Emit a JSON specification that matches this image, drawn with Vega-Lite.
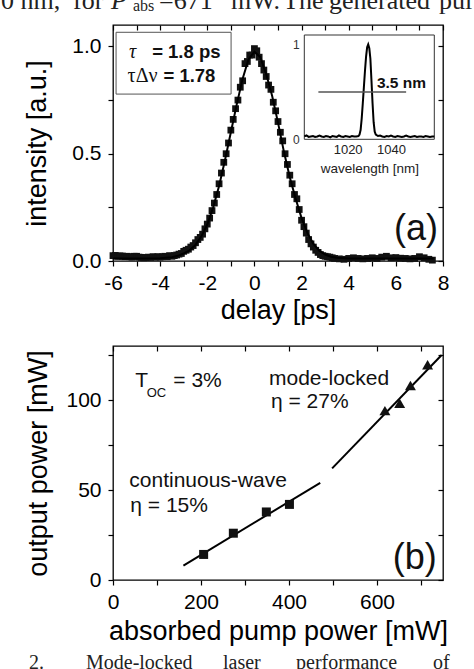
{
  "$schema": "https://vega.github.io/schema/vega-lite/v6.json",
  "background": "white",
  "padding": {"left": 0, "top": -13, "right": 0, "bottom": 0},
  "spacing": 19,
  "config": {
    "view": {"stroke": "black", "strokeWidth": 1.3},
    "font": "Liberation Sans",
    "axis": {"labelFont": "Liberation Sans", "titleFont": "Liberation Sans", "labelColor": "black", "titleColor": "black", "domainColor": "black", "tickColor": "black", "grid": false, "titleFontWeight": "normal", "labelFontSize": 21, "titleFontSize": 27, "domainWidth": 1.3, "tickWidth": 1.2, "tickSize": 5, "labelOverlap": false, "labelFlush": false}
  },
  "datasets": {
    "pulse": [
      {"delay": -6.0, "intensity": 0.025}, {"delay": -5.9, "intensity": 0.026}, {"delay": -5.8, "intensity": 0.022}, {"delay": -5.7, "intensity": 0.024}, {"delay": -5.6, "intensity": 0.023}, {"delay": -5.5, "intensity": 0.02}, {"delay": -5.4, "intensity": 0.022}, {"delay": -5.3, "intensity": 0.02}, {"delay": -5.2, "intensity": 0.018}, {"delay": -5.1, "intensity": 0.022}, {"delay": -5.0, "intensity": 0.022}, {"delay": -4.9, "intensity": 0.018}, {"delay": -4.8, "intensity": 0.017}, {"delay": -4.7, "intensity": 0.015}, {"delay": -4.6, "intensity": 0.016}, {"delay": -4.5, "intensity": 0.018}, {"delay": -4.4, "intensity": 0.017}, {"delay": -4.3, "intensity": 0.02}, {"delay": -4.2, "intensity": 0.018}, {"delay": -4.1, "intensity": 0.02}, {"delay": -4.0, "intensity": 0.018}, {"delay": -3.9, "intensity": 0.02}, {"delay": -3.8, "intensity": 0.022}, {"delay": -3.7, "intensity": 0.02}, {"delay": -3.6, "intensity": 0.025}, {"delay": -3.5, "intensity": 0.022}, {"delay": -3.4, "intensity": 0.025}, {"delay": -3.3, "intensity": 0.028}, {"delay": -3.2, "intensity": 0.032}, {"delay": -3.1, "intensity": 0.035}, {"delay": -3.0, "intensity": 0.045}, {"delay": -2.9, "intensity": 0.05}, {"delay": -2.8, "intensity": 0.055}, {"delay": -2.7, "intensity": 0.065}, {"delay": -2.6, "intensity": 0.072}, {"delay": -2.5, "intensity": 0.085}, {"delay": -2.4, "intensity": 0.1}, {"delay": -2.3, "intensity": 0.11}, {"delay": -2.2, "intensity": 0.125}, {"delay": -2.1, "intensity": 0.15}, {"delay": -2.0, "intensity": 0.172}, {"delay": -1.9, "intensity": 0.2}, {"delay": -1.8, "intensity": 0.235}, {"delay": -1.7, "intensity": 0.27}, {"delay": -1.6, "intensity": 0.31}, {"delay": -1.5, "intensity": 0.36}, {"delay": -1.4, "intensity": 0.41}, {"delay": -1.3, "intensity": 0.46}, {"delay": -1.2, "intensity": 0.5}, {"delay": -1.1, "intensity": 0.55}, {"delay": -1.0, "intensity": 0.61}, {"delay": -0.9, "intensity": 0.66}, {"delay": -0.8, "intensity": 0.71}, {"delay": -0.7, "intensity": 0.75}, {"delay": -0.6, "intensity": 0.81}, {"delay": -0.5, "intensity": 0.84}, {"delay": -0.4, "intensity": 0.92}, {"delay": -0.3, "intensity": 0.93}, {"delay": -0.2, "intensity": 0.96}, {"delay": -0.1, "intensity": 0.96}, {"delay": 0.0, "intensity": 0.99}, {"delay": 0.1, "intensity": 0.98}, {"delay": 0.2, "intensity": 0.95}, {"delay": 0.3, "intensity": 0.92}, {"delay": 0.4, "intensity": 0.89}, {"delay": 0.5, "intensity": 0.86}, {"delay": 0.6, "intensity": 0.82}, {"delay": 0.7, "intensity": 0.8}, {"delay": 0.8, "intensity": 0.74}, {"delay": 0.9, "intensity": 0.7}, {"delay": 1.0, "intensity": 0.65}, {"delay": 1.1, "intensity": 0.6}, {"delay": 1.2, "intensity": 0.56}, {"delay": 1.3, "intensity": 0.5}, {"delay": 1.4, "intensity": 0.45}, {"delay": 1.5, "intensity": 0.4}, {"delay": 1.6, "intensity": 0.36}, {"delay": 1.7, "intensity": 0.31}, {"delay": 1.8, "intensity": 0.29}, {"delay": 1.9, "intensity": 0.24}, {"delay": 2.0, "intensity": 0.19}, {"delay": 2.1, "intensity": 0.16}, {"delay": 2.2, "intensity": 0.13}, {"delay": 2.3, "intensity": 0.1}, {"delay": 2.4, "intensity": 0.08}, {"delay": 2.5, "intensity": 0.065}, {"delay": 2.6, "intensity": 0.05}, {"delay": 2.7, "intensity": 0.04}, {"delay": 2.8, "intensity": 0.03}, {"delay": 2.9, "intensity": 0.025}, {"delay": 3.0, "intensity": 0.022}, {"delay": 3.1, "intensity": 0.02}, {"delay": 3.2, "intensity": 0.018}, {"delay": 3.3, "intensity": 0.015}, {"delay": 3.4, "intensity": 0.012}, {"delay": 3.6, "intensity": 0.01}, {"delay": 3.8, "intensity": 0.008}, {"delay": 4.0, "intensity": 0.012}, {"delay": 4.2, "intensity": 0.015}, {"delay": 4.4, "intensity": 0.012}, {"delay": 4.6, "intensity": 0.01}, {"delay": 4.8, "intensity": 0.012}, {"delay": 5.0, "intensity": 0.015}, {"delay": 5.2, "intensity": 0.012}, {"delay": 5.4, "intensity": 0.018}, {"delay": 5.6, "intensity": 0.022}, {"delay": 5.8, "intensity": 0.015}, {"delay": 6.0, "intensity": 0.016}, {"delay": 6.2, "intensity": 0.013}, {"delay": 6.4, "intensity": 0.012}, {"delay": 6.6, "intensity": 0.01}, {"delay": 6.8, "intensity": 0.012}, {"delay": 7.0, "intensity": 0.02}, {"delay": 7.2, "intensity": 0.015}, {"delay": 7.4, "intensity": 0.008}, {"delay": 7.55, "intensity": 0.004}
    ],
    "pulsefit": [
      {"delay": -6, "intensity": 0.012}, {"delay": -5, "intensity": 0.012}, {"delay": -4, "intensity": 0.013}, {"delay": -3.5, "intensity": 0.018}, {"delay": -3.25, "intensity": 0.024}, {"delay": -3, "intensity": 0.035}, {"delay": -2.75, "intensity": 0.05}, {"delay": -2.5, "intensity": 0.075}, {"delay": -2.25, "intensity": 0.115}, {"delay": -2, "intensity": 0.17}, {"delay": -1.75, "intensity": 0.25}, {"delay": -1.5, "intensity": 0.35}, {"delay": -1.25, "intensity": 0.47}, {"delay": -1, "intensity": 0.6}, {"delay": -0.75, "intensity": 0.73}, {"delay": -0.5, "intensity": 0.85}, {"delay": -0.25, "intensity": 0.94}, {"delay": 0, "intensity": 0.975}, {"delay": 0.25, "intensity": 0.95}, {"delay": 0.5, "intensity": 0.87}, {"delay": 0.75, "intensity": 0.77}, {"delay": 1, "intensity": 0.645}, {"delay": 1.25, "intensity": 0.51}, {"delay": 1.5, "intensity": 0.39}, {"delay": 1.75, "intensity": 0.29}, {"delay": 2, "intensity": 0.2}, {"delay": 2.25, "intensity": 0.13}, {"delay": 2.5, "intensity": 0.08}, {"delay": 2.75, "intensity": 0.048}, {"delay": 3, "intensity": 0.03}, {"delay": 3.25, "intensity": 0.02}, {"delay": 3.5, "intensity": 0.015}, {"delay": 4, "intensity": 0.012}, {"delay": 5, "intensity": 0.012}, {"delay": 6, "intensity": 0.012}, {"delay": 7, "intensity": 0.012}, {"delay": 7.6, "intensity": 0.012}
    ],
    "spectrum": [
      {"wl": 1000, "s": 0.03}, {"wl": 1001, "s": 0.04}, {"wl": 1002, "s": 0.025}, {"wl": 1003, "s": 0.03}, {"wl": 1004, "s": 0.035}, {"wl": 1005, "s": 0.025}, {"wl": 1006, "s": 0.03}, {"wl": 1007, "s": 0.04}, {"wl": 1008, "s": 0.03}, {"wl": 1009, "s": 0.025}, {"wl": 1010, "s": 0.035}, {"wl": 1011, "s": 0.03}, {"wl": 1012, "s": 0.02}, {"wl": 1013, "s": 0.035}, {"wl": 1014, "s": 0.03}, {"wl": 1015, "s": 0.025}, {"wl": 1016, "s": 0.04}, {"wl": 1017, "s": 0.03}, {"wl": 1018, "s": 0.025}, {"wl": 1019, "s": 0.035}, {"wl": 1020, "s": 0.03}, {"wl": 1021, "s": 0.025}, {"wl": 1022, "s": 0.035}, {"wl": 1023, "s": 0.03}, {"wl": 1024, "s": 0.03}, {"wl": 1025, "s": 0.035}, {"wl": 1025.5, "s": 0.05}, {"wl": 1026, "s": 0.1}, {"wl": 1026.5, "s": 0.22}, {"wl": 1027, "s": 0.38}, {"wl": 1027.5, "s": 0.55}, {"wl": 1028, "s": 0.72}, {"wl": 1028.5, "s": 0.87}, {"wl": 1029, "s": 0.97}, {"wl": 1029.5, "s": 1.0}, {"wl": 1030, "s": 0.96}, {"wl": 1030.5, "s": 0.85}, {"wl": 1031, "s": 0.62}, {"wl": 1031.5, "s": 0.38}, {"wl": 1032, "s": 0.18}, {"wl": 1032.5, "s": 0.08}, {"wl": 1033, "s": 0.05}, {"wl": 1034, "s": 0.035}, {"wl": 1035, "s": 0.04}, {"wl": 1036, "s": 0.03}, {"wl": 1037, "s": 0.025}, {"wl": 1038, "s": 0.035}, {"wl": 1039, "s": 0.03}, {"wl": 1040, "s": 0.04}, {"wl": 1041, "s": 0.03}, {"wl": 1042, "s": 0.025}, {"wl": 1043, "s": 0.035}, {"wl": 1044, "s": 0.03}, {"wl": 1045, "s": 0.025}, {"wl": 1046, "s": 0.03}, {"wl": 1047, "s": 0.04}, {"wl": 1048, "s": 0.03}, {"wl": 1049, "s": 0.025}, {"wl": 1050, "s": 0.03}, {"wl": 1051, "s": 0.035}, {"wl": 1052, "s": 0.025}, {"wl": 1053, "s": 0.03}, {"wl": 1054, "s": 0.03}, {"wl": 1055, "s": 0.025}, {"wl": 1056, "s": 0.035}, {"wl": 1057, "s": 0.03}, {"wl": 1058, "s": 0.025}, {"wl": 1059, "s": 0.03}, {"wl": 1060, "s": 0.03}
    ],
    "cw": [
      {"pump": 206, "power": 14.2}, {"pump": 273.5, "power": 26}, {"pump": 348.5, "power": 37.8}, {"pump": 401, "power": 42}
    ],
    "ml": [
      {"pump": 618, "power": 94.1}, {"pump": 651.5, "power": 98.2}, {"pump": 676, "power": 108}, {"pump": 715, "power": 119.6}
    ],
    "fits": [
      {"seg": "cw", "pump": 160, "power": 8}, {"seg": "cw", "pump": 471, "power": 54},
      {"seg": "ml", "pump": 498, "power": 62}, {"seg": "ml", "pump": 747, "power": 125}
    ]
  },
  "vconcat": [
    {
      "width": 330,
      "height": 236,
      "resolve": {"scale": {"x": "independent", "y": "independent"}, "axis": {"x": "independent", "y": "independent"}},
      "layer": [
        {
          "resolve": {"axis": {"x": "independent", "y": "independent"}},
          "layer": [
            {
              "data": {"name": "pulse"},
              "mark": {"type": "square", "size": 46, "color": "#111", "opacity": 1},
              "encoding": {
                "x": {"field": "delay", "type": "quantitative", "scale": {"domain": [-6, 8], "nice": false, "zero": false},
                  "axis": {"orient": "bottom", "values": [-6, -5, -4, -3, -2, -1, 0, 1, 2, 3, 4, 5, 6, 7, 8], "labelExpr": "datum.value % 2 == 0 ? toString(datum.value) : ''", "title": "delay [ps]", "domain": false, "labelPadding": 6, "titlePadding": 4}},
                "y": {"field": "intensity", "type": "quantitative", "scale": {"domain": [0, 1.1], "nice": false, "zero": false},
                  "axis": {"orient": "left", "values": [0, 0.25, 0.5, 0.75, 1], "labelExpr": "(datum.value == 0.25 || datum.value == 0.75) ? '' : format(datum.value, '.1f')", "title": "intensity [a.u.]", "domain": false, "labelPadding": 7, "titlePadding": 20}}
              }
            },
            {
              "data": {"name": "pulsefit"},
              "mark": {"type": "line", "color": "black", "strokeWidth": 2},
              "encoding": {
                "x": {"field": "delay", "type": "quantitative", "axis": {"orient": "top", "values": [-6, -5, -4, -3, -2, -1, 0, 1, 2, 3, 4, 5, 6, 7, 8], "labels": false, "tickSize": -5, "domain": false, "title": null}},
                "y": {"field": "intensity", "type": "quantitative", "axis": {"orient": "right", "values": [0, 0.25, 0.5, 0.75, 1], "labels": false, "tickSize": -5, "domain": false, "title": null}}
              }
            },
            {
              "data": {"values": [{}]},
              "mark": {"type": "rect", "fill": "white", "stroke": "#555", "strokeWidth": 1},
              "encoding": {"x": {"datum": -5.87, "axis": null}, "x2": {"datum": -0.99}, "y": {"datum": 1.066, "axis": null}, "y2": {"datum": 0.778}}
            },
            {
              "data": {"values": [{}]},
              "mark": {"type": "text", "text": "τ", "align": "left", "baseline": "alphabetic", "font": "Liberation Serif", "fontStyle": "italic", "fontSize": 20, "color": "#111"},
              "encoding": {"x": {"datum": -5.32, "axis": null}, "y": {"datum": 0.945, "axis": null}}
            },
            {
              "data": {"values": [{}]},
              "mark": {"type": "text", "text": "= 1.8 ps", "align": "left", "baseline": "alphabetic", "font": "Liberation Sans", "fontWeight": "bold", "fontSize": 18.5, "color": "#111"},
              "encoding": {"x": {"datum": -4.34, "axis": null}, "y": {"datum": 0.945, "axis": null}}
            },
            {
              "data": {"values": [{}]},
              "mark": {"type": "text", "text": "τΔν", "align": "left", "baseline": "alphabetic", "font": "Liberation Serif", "fontSize": 20, "color": "#111"},
              "encoding": {"x": {"datum": -5.38, "axis": null}, "y": {"datum": 0.836, "axis": null}}
            },
            {
              "data": {"values": [{}]},
              "mark": {"type": "text", "text": "= 1.78", "align": "left", "baseline": "alphabetic", "font": "Liberation Sans", "fontWeight": "bold", "fontSize": 18.5, "color": "#111"},
              "encoding": {"x": {"datum": -3.86, "axis": null}, "y": {"datum": 0.836, "axis": null}}
            },
            {
              "data": {"values": [{}]},
              "mark": {"type": "text", "text": "(a)", "align": "left", "baseline": "alphabetic", "font": "Liberation Sans", "fontSize": 36, "color": "#111"},
              "encoding": {"x": {"datum": 5.92, "axis": null}, "y": {"datum": 0.096, "axis": null}}
            },
            {
              "data": {"values": [{}]},
              "mark": {"type": "text", "text": "0 nm,", "align": "left", "baseline": "alphabetic", "font": "Liberation Serif", "fontSize": 26, "color": "#222"},
              "encoding": {"x": {"datum": -10.752, "axis": null}, "y": {"datum": 1.1734, "axis": null}}
            },
            {
              "data": {"values": [{}]},
              "mark": {"type": "text", "text": "for", "align": "left", "baseline": "alphabetic", "font": "Liberation Serif", "fontSize": 26, "color": "#222"},
              "encoding": {"x": {"datum": -7.697, "axis": null}, "y": {"datum": 1.1734, "axis": null}}
            },
            {
              "data": {"values": [{}]},
              "mark": {"type": "text", "text": "P", "align": "left", "baseline": "alphabetic", "font": "Liberation Serif", "fontStyle": "italic", "fontSize": 26, "color": "#222"},
              "encoding": {"x": {"datum": -6.085, "axis": null}, "y": {"datum": 1.1734, "axis": null}}
            },
            {
              "data": {"values": [{}]},
              "mark": {"type": "text", "text": "abs", "align": "left", "baseline": "alphabetic", "font": "Liberation Serif", "fontSize": 16, "color": "#222"},
              "encoding": {"x": {"datum": -5.151, "axis": null}, "y": {"datum": 1.1641, "axis": null}}
            },
            {
              "data": {"values": [{}]},
              "mark": {"type": "text", "text": "=671", "align": "left", "baseline": "alphabetic", "font": "Liberation Serif", "fontSize": 26, "color": "#222"},
              "encoding": {"x": {"datum": -4.048, "axis": null}, "y": {"datum": 1.1734, "axis": null}}
            },
            {
              "data": {"values": [{}]},
              "mark": {"type": "text", "text": "mW.", "align": "left", "baseline": "alphabetic", "font": "Liberation Serif", "fontSize": 26, "color": "#222"},
              "encoding": {"x": {"datum": -0.994, "axis": null}, "y": {"datum": 1.1734, "axis": null}}
            },
            {
              "data": {"values": [{}]},
              "mark": {"type": "text", "text": "The", "align": "left", "baseline": "alphabetic", "font": "Liberation Serif", "fontSize": 26, "color": "#222"},
              "encoding": {"x": {"datum": 1.213, "axis": null}, "y": {"datum": 1.1734, "axis": null}}
            },
            {
              "data": {"values": [{}]},
              "mark": {"type": "text", "text": "generated", "align": "left", "baseline": "alphabetic", "font": "Liberation Serif", "fontSize": 26, "color": "#222"},
              "encoding": {"x": {"datum": 3.164, "axis": null}, "y": {"datum": 1.1734, "axis": null}}
            },
            {
              "data": {"values": [{}]},
              "mark": {"type": "text", "text": "pul", "align": "left", "baseline": "alphabetic", "font": "Liberation Serif", "fontSize": 26, "color": "#222"},
              "encoding": {"x": {"datum": 7.831, "axis": null}, "y": {"datum": 1.1734, "axis": null}}
            }
          ]
        },
        {
          "layer": [
            {
              "data": {"values": [{}]},
              "mark": {"type": "rect", "fill": "white", "stroke": "#333", "strokeWidth": 1},
              "encoding": {
                "x": {"datum": 1000, "type": "quantitative", "scale": {"domain": [1000, 1060], "range": [191.3, 321.3], "nice": false, "zero": false},
                  "axis": {"orient": "bottom", "offset": -121.7, "values": [1020, 1040], "format": "d", "title": "wavelength [nm]", "ticks": false, "domain": false, "labelFontSize": 13, "titleFontSize": 13.5, "labelPadding": 4, "titlePadding": 5, "labelColor": "#222", "titleColor": "#222"}},
                "x2": {"datum": 1060},
                "y": {"datum": 0, "type": "quantitative", "scale": {"domain": [0, 1.1], "range": [114.3, 10], "nice": false, "zero": false},
                  "axis": {"orient": "left", "offset": -191.3, "values": [0, 1], "labelExpr": "toString(datum.value)", "title": null, "ticks": false, "domain": false, "labelFontSize": 12, "labelPadding": 5, "labelColor": "#333"}},
                "y2": {"datum": 1.1}
              }
            },
            {
              "data": {"name": "spectrum"},
              "mark": {"type": "line", "color": "black", "strokeWidth": 2},
              "encoding": {"x": {"field": "wl", "type": "quantitative"}, "y": {"field": "s", "type": "quantitative"}}
            },
            {
              "data": {"values": [{}]},
              "mark": {"type": "rule", "color": "#555", "strokeWidth": 1.5},
              "encoding": {"x": {"datum": 1006.5}, "x2": {"datum": 1047}, "y": {"datum": 0.5}}
            },
            {
              "data": {"values": [{}]},
              "mark": {"type": "text", "text": "3.5 nm", "align": "left", "baseline": "alphabetic", "font": "Liberation Sans", "fontWeight": "bold", "fontSize": 15.5, "color": "#111"},
              "encoding": {"x": {"datum": 1033.5}, "y": {"datum": 0.537}}
            }
          ]
        }
      ]
    },
    {
      "width": 330,
      "height": 234,
      "resolve": {"axis": {"x": "independent", "y": "independent"}},
      "layer": [
        {
          "data": {"name": "fits"},
          "mark": {"type": "line", "color": "black", "strokeWidth": 2},
          "encoding": {
            "x": {"field": "pump", "type": "quantitative", "scale": {"domain": [0, 750], "nice": false, "zero": false},
              "axis": {"orient": "bottom", "values": [0, 100, 200, 300, 400, 500, 600, 700], "labelExpr": "datum.value % 200 == 0 ? toString(datum.value) : ''", "title": "absorbed pump power [mW]", "domain": false, "labelPadding": 6, "titlePadding": 6}},
            "y": {"field": "power", "type": "quantitative", "scale": {"domain": [0, 130], "nice": false, "zero": false},
              "axis": {"orient": "left", "values": [0, 25, 50, 75, 100, 125], "labelExpr": "datum.value % 50 == 0 ? toString(datum.value) : ''", "title": "output power [mW]", "domain": false, "labelPadding": 7, "titlePadding": 13}},
            "detail": {"field": "seg", "type": "nominal"}
          }
        },
        {
          "data": {"name": "cw"},
          "mark": {"type": "square", "size": 81, "color": "#111", "opacity": 1},
          "encoding": {
            "x": {"field": "pump", "type": "quantitative", "axis": {"orient": "top", "values": [0, 100, 200, 300, 400, 500, 600, 700], "labels": false, "tickSize": -5, "domain": false, "title": null}},
            "y": {"field": "power", "type": "quantitative", "axis": {"orient": "right", "values": [0, 25, 50, 75, 100, 125], "labels": false, "tickSize": -5, "domain": false, "title": null}}
          }
        },
        {
          "data": {"name": "ml"},
          "mark": {"type": "point", "shape": "triangle-up", "filled": true, "size": 120, "color": "#111", "opacity": 1},
          "encoding": {"x": {"field": "pump", "type": "quantitative", "axis": null}, "y": {"field": "power", "type": "quantitative", "axis": null}}
        },
        {
          "data": {"values": [{}]},
          "mark": {"type": "text", "text": "T", "align": "left", "baseline": "alphabetic", "font": "Liberation Sans", "fontSize": 21, "color": "#111"},
          "encoding": {"x": {"datum": 50.7, "axis": null}, "y": {"datum": 107.4, "axis": null}}
        },
        {
          "data": {"values": [{}]},
          "mark": {"type": "text", "text": "OC", "align": "left", "baseline": "alphabetic", "font": "Liberation Sans", "fontSize": 13, "color": "#111"},
          "encoding": {"x": {"datum": 76.6, "axis": null}, "y": {"datum": 101.8, "axis": null}}
        },
        {
          "data": {"values": [{}]},
          "mark": {"type": "text", "text": "= 3%", "align": "left", "baseline": "alphabetic", "font": "Liberation Sans", "fontSize": 21, "color": "#111"},
          "encoding": {"x": {"datum": 137, "axis": null}, "y": {"datum": 107.4, "axis": null}}
        },
        {
          "data": {"values": [{}]},
          "mark": {"type": "text", "text": "mode-locked", "align": "left", "baseline": "alphabetic", "font": "Liberation Sans", "fontSize": 21, "color": "#111"},
          "encoding": {"x": {"datum": 354.5, "axis": null}, "y": {"datum": 108.3, "axis": null}}
        },
        {
          "data": {"values": [{}]},
          "mark": {"type": "text", "text": "η = 27%", "align": "left", "baseline": "alphabetic", "font": "Liberation Sans", "fontSize": 21, "color": "#111"},
          "encoding": {"x": {"datum": 359, "axis": null}, "y": {"datum": 95.3, "axis": null}}
        },
        {
          "data": {"values": [{}]},
          "mark": {"type": "text", "text": "continuous-wave", "align": "left", "baseline": "alphabetic", "font": "Liberation Sans", "fontSize": 21, "color": "#111"},
          "encoding": {"x": {"datum": 37, "axis": null}, "y": {"datum": 51.8, "axis": null}}
        },
        {
          "data": {"values": [{}]},
          "mark": {"type": "text", "text": "η = 15%", "align": "left", "baseline": "alphabetic", "font": "Liberation Sans", "fontSize": 21, "color": "#111"},
          "encoding": {"x": {"datum": 39.3, "axis": null}, "y": {"datum": 37.9, "axis": null}}
        },
        {
          "data": {"values": [{}]},
          "mark": {"type": "text", "text": "(b)", "align": "left", "baseline": "alphabetic", "font": "Liberation Sans", "fontSize": 36, "color": "#111"},
          "encoding": {"x": {"datum": 635.7, "axis": null}, "y": {"datum": 6.0, "axis": null}}
        },
        {
          "data": {"values": [{}]},
          "mark": {"type": "text", "text": "2.", "align": "left", "baseline": "alphabetic", "font": "Liberation Serif", "fontSize": 20, "color": "#222"},
          "encoding": {"x": {"datum": -190.9, "axis": null}, "y": {"datum": -49.7, "axis": null}}
        },
        {
          "data": {"values": [{}]},
          "mark": {"type": "text", "text": "Mode-locked", "align": "left", "baseline": "alphabetic", "font": "Liberation Serif", "fontSize": 20, "color": "#222"},
          "encoding": {"x": {"datum": -61.4, "axis": null}, "y": {"datum": -49.7, "axis": null}}
        },
        {
          "data": {"values": [{}]},
          "mark": {"type": "text", "text": "laser", "align": "left", "baseline": "alphabetic", "font": "Liberation Serif", "fontSize": 20, "color": "#222"},
          "encoding": {"x": {"datum": 250, "axis": null}, "y": {"datum": -49.7, "axis": null}}
        },
        {
          "data": {"values": [{}]},
          "mark": {"type": "text", "text": "performance", "align": "left", "baseline": "alphabetic", "font": "Liberation Serif", "fontSize": 20, "color": "#222"},
          "encoding": {"x": {"datum": 416, "axis": null}, "y": {"datum": -49.7, "axis": null}}
        },
        {
          "data": {"values": [{}]},
          "mark": {"type": "text", "text": "of", "align": "left", "baseline": "alphabetic", "font": "Liberation Serif", "fontSize": 20, "color": "#222"},
          "encoding": {"x": {"datum": 727, "axis": null}, "y": {"datum": -49.7, "axis": null}}
        }
      ]
    }
  ]
}
